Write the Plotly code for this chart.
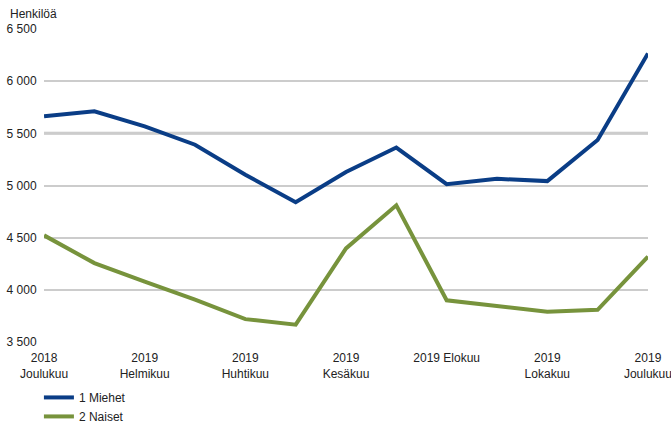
import plotly.graph_objects as go

months = list(range(13))
tick_pos = [0, 2, 4, 6, 8, 10, 12]
tick_labels = [
    "2018<br>Joulukuu",
    "2019<br>Helmikuu",
    "2019<br>Huhtikuu",
    "2019<br>Kesäkuu",
    "2019 Elokuu<br> ",
    "2019<br>Lokakuu",
    "2019<br>Joulukuu",
]
miehet = [5663, 5711, 5567, 5391, 5103, 4840, 5129, 5364, 5013, 5064, 5042, 5436, 6266]
naiset = [4522, 4256, 4078, 3906, 3719, 3666, 4397, 4810, 3900, 3843, 3789, 3808, 4319]
y_ticks = [3500, 4000, 4500, 5000, 5500, 6000, 6500]
y_labels = ["3 500", "4 000", "4 500", "5 000", "5 500", "6 000", "6 500"]

fig = go.Figure()
fig.add_trace(go.Scatter(x=months, y=miehet, mode="lines", name="1 Miehet",
                         line=dict(color="#0a3d86", width=4)))
fig.add_trace(go.Scatter(x=months, y=naiset, mode="lines", name="2 Naiset",
                         line=dict(color="#77933c", width=4)))

# the 5500 gridline is drawn heavier in the original
fig.add_hline(y=y_ticks[4], line=dict(color="#c4c4c4", width=3), layer="below")

fig.update_layout(
    width=671, height=425,
    margin=dict(l=44, r=23, t=29, b=83, autoexpand=False),
    paper_bgcolor="white", plot_bgcolor="white",
    font=dict(family="Liberation Sans, Arial, sans-serif", size=12, color="#222"),
    xaxis=dict(range=[-0.001, 12.001], tickvals=tick_pos, ticktext=tick_labels,
               showgrid=False, zeroline=False, ticks="outside", ticklen=5,
               tickcolor="rgba(0,0,0,0)", tickangle=0, automargin=False,
               ticklabeloverflow="allow"),
    yaxis=dict(range=[3500, 6500], tickvals=y_ticks, ticktext=y_labels,
               showgrid=True, gridcolor="#cccccc", gridwidth=1.5,
               zeroline=False, ticks="outside", ticklen=4,
               tickcolor="rgba(0,0,0,0)", automargin=False),
    legend=dict(x=0.058, y=0.099, xref="container", yref="container",
                xanchor="left", yanchor="top", orientation="v",
                font=dict(size=12), itemwidth=30, tracegroupgap=0),
    annotations=[dict(text="Henkilöä", x=0, y=1, xref="paper", yref="paper",
                      xshift=-36, yshift=6, xanchor="left", yanchor="bottom",
                      showarrow=False, font=dict(size=12))],
)

# drop the browser's default 8px body margin so the figure sits at 0,0
fig.write_html("out.html", config={"displayModeBar": False},
               post_script="document.body.style.margin='0';")
